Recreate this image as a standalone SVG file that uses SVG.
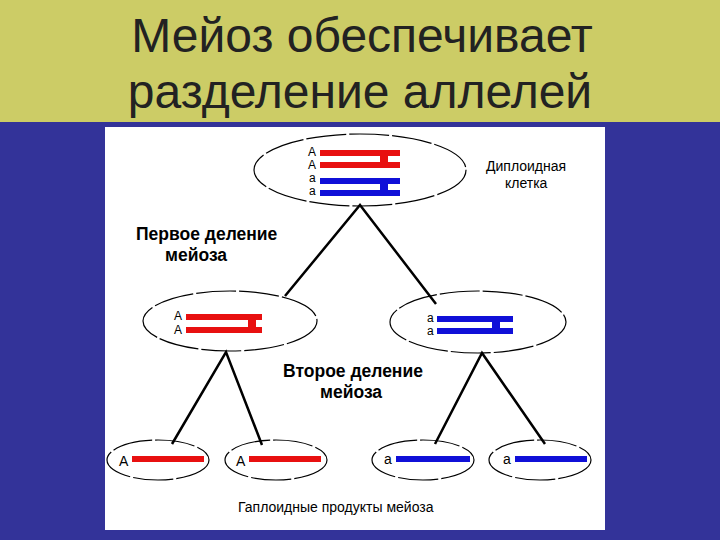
<svg xmlns="http://www.w3.org/2000/svg" width="720" height="540" viewBox="0 0 720 540">
<style>
.e{fill:none;stroke:#000;stroke-width:1.2;stroke-dasharray:40 3}
.t{font-family:"Liberation Sans",Arial,sans-serif;font-size:14px;fill:#000}
.s{font-family:"Liberation Sans",Arial,sans-serif;font-size:12px;fill:#000}
.b{font-family:"Liberation Sans",Arial,sans-serif;font-size:17.5px;font-weight:bold;fill:#000}
.r{fill:#e81010}.u{fill:#1010d8}
</style>
<rect width="720" height="540" fill="#333399"/>
<rect width="720" height="122" fill="#cccc66"/>
<g font-family="'Liberation Sans',Arial,sans-serif" font-size="48" fill="#222" text-anchor="middle">
<text x="362" y="52">Мейоз обеспечивает</text>
<text x="360" y="108">разделение аллелей</text>
</g>
<rect x="105" y="127" width="500" height="403" fill="#fff"/>
<g id="connectors" stroke="#000" stroke-width="2.5" fill="none">
<path d="M285 296 L360 205 L436 304"/>
<path d="M172 444 L226 352 L262 445"/>
<path d="M435 444 L482 353 L545 444"/>
</g>
<g id="diploid">
<ellipse class="e" cx="360" cy="170" rx="106" ry="36"/>
<text class="s" x="308" y="156">А</text><text class="s" x="308" y="169">А</text>
<text class="s" x="309" y="182">а</text><text class="s" x="309" y="195">а</text>
<rect class="r" x="320" y="150" width="80" height="6"/><rect class="r" x="320" y="162" width="80" height="6"/>
<rect class="r" x="380" y="150" width="8" height="18"/>
<rect class="u" x="320" y="178" width="80" height="6"/><rect class="u" x="320" y="190" width="80" height="6"/>
<rect class="u" x="380" y="178" width="8" height="18"/>
<text class="t" x="486" y="171" font-size="15">Диплоидная</text><text class="t" x="505" y="188" font-size="15">клетка</text>
</g>
<text class="b" x="136" y="240">Первое деление</text><text class="b" x="165" y="261">мейоза</text>
<g id="left">
<ellipse class="e" cx="230" cy="321" rx="87" ry="30"/>
<text class="s" x="174" y="320">А</text><text class="s" x="174" y="334">А</text>
<rect class="r" x="186" y="314" width="76" height="6"/><rect class="r" x="186" y="327" width="76" height="6"/>
<rect class="r" x="248" y="314" width="8" height="19"/>
</g>
<g id="right">
<ellipse class="e" cx="478" cy="322" rx="88" ry="31"/>
<text class="s" x="427" y="322">а</text><text class="s" x="427" y="335">а</text>
<rect class="u" x="437" y="316" width="76" height="6"/><rect class="u" x="437" y="328" width="76" height="6"/>
<rect class="u" x="492" y="316" width="8" height="18"/>
</g>
<text class="b" x="283" y="377">Второе деление</text><text class="b" x="320" y="398">мейоза</text>
<g id="h1"><ellipse class="e" cx="158" cy="460" rx="51" ry="20"/><text class="t" x="119" y="466" font-size="16">А</text><rect class="r" x="132" y="456" width="72" height="6"/></g>
<g id="h2"><ellipse class="e" cx="276" cy="460" rx="51" ry="20"/><text class="t" x="236" y="466" font-size="16">А</text><rect class="r" x="249" y="456" width="72" height="6"/></g>
<g id="h3"><ellipse class="e" cx="423" cy="460" rx="51" ry="20"/><text class="t" x="384" y="464">а</text><rect class="u" x="396" y="456" width="74" height="6"/></g>
<g id="h4"><ellipse class="e" cx="540" cy="460" rx="51" ry="20"/><text class="t" x="503" y="464">а</text><rect class="u" x="515" y="456" width="72" height="6"/></g>
<text class="t" x="238" y="512" font-size="15.5">Гаплоидные продукты мейоза</text>
</svg>
